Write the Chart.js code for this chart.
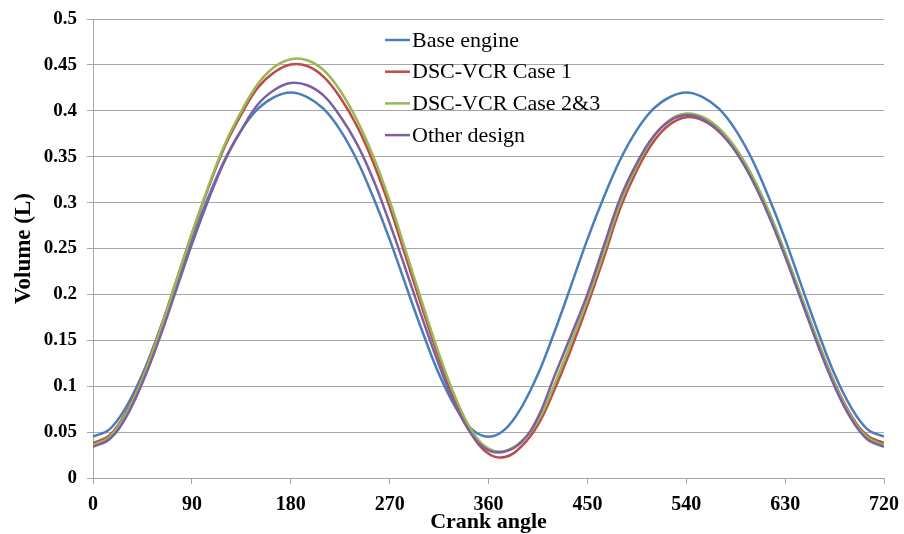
<!DOCTYPE html>
<html>
<head>
<meta charset="utf-8">
<script src="https://cdn.jsdelivr.net/npm/chart.js@4/dist/chart.umd.min.js"></script>
<style>
  html, body { margin: 0; padding: 0; background: #fff; }
  #wrap { width: 904px; height: 534px; position: relative; }
</style>
</head>
<body>
<div id="wrap"><canvas id="volumeChart"></canvas></div>
<script>
const angles = [
  0, 15, 30, 45, 60, 75, 90, 105, 120, 135, 150, 165, 180,
  195, 210, 225, 240, 255, 270, 285, 300, 315, 330, 345, 360,
  375, 390, 405, 420, 435, 450, 465, 480, 495, 510, 525, 540,
  555, 570, 585, 600, 615, 630, 645, 660, 675, 690, 705, 720
];

const baseEngine = [
  0.045, 0.053, 0.077, 0.113, 0.159, 0.209, 0.26, 0.306, 0.347, 0.379, 0.402, 0.415, 0.42,
  0.415, 0.402, 0.379, 0.347, 0.306, 0.26, 0.209, 0.159, 0.113, 0.077, 0.053, 0.045,
  0.053, 0.077, 0.113, 0.159, 0.209, 0.26, 0.306, 0.347, 0.379, 0.402, 0.415, 0.42,
  0.415, 0.402, 0.379, 0.347, 0.306, 0.26, 0.209, 0.159, 0.113, 0.077, 0.053, 0.045
];

const case1 = [
  0.038, 0.0465, 0.0715, 0.110, 0.158, 0.212, 0.266, 0.316, 0.361, 0.396, 0.425, 0.442, 0.4505,
  0.4488, 0.437, 0.4145, 0.384, 0.344, 0.2955, 0.2397, 0.184, 0.1305, 0.083, 0.047, 0.0264,
  0.0228, 0.0345, 0.058, 0.096, 0.14, 0.188, 0.24, 0.294, 0.335, 0.366, 0.385, 0.393,
  0.3895, 0.377, 0.356, 0.3265, 0.289, 0.2443, 0.196, 0.148, 0.1037, 0.0685, 0.046, 0.038
];

const case23 = [
  0.036, 0.0446, 0.0697, 0.1084, 0.1573, 0.2116, 0.2663, 0.3177, 0.3636, 0.3993, 0.4292, 0.4477, 0.4562,
  0.4551, 0.4442, 0.4219, 0.3906, 0.3508, 0.302, 0.246, 0.1897, 0.135, 0.0874, 0.0514, 0.032,
  0.0295, 0.040, 0.062, 0.102, 0.147, 0.194, 0.246, 0.300, 0.340, 0.371, 0.390, 0.397,
  0.3934, 0.3808, 0.3595, 0.3295, 0.2912, 0.2457, 0.197, 0.148, 0.1028, 0.067, 0.0441, 0.036
];

const otherDesign = [
  0.034, 0.0422, 0.0661, 0.1038, 0.1502, 0.2022, 0.2545, 0.3029, 0.3457, 0.379, 0.4068, 0.4227, 0.4302,
  0.4278, 0.4165, 0.394, 0.3646, 0.3255, 0.2776, 0.226, 0.173, 0.123, 0.0787, 0.0469, 0.030,
  0.0288, 0.039, 0.066, 0.111, 0.155, 0.200, 0.253, 0.305, 0.343, 0.372, 0.389, 0.3954,
  0.391, 0.3777, 0.3555, 0.3247, 0.286, 0.2411, 0.1925, 0.144, 0.0999, 0.0647, 0.0419, 0.034
];

const seriesNames = ["Base engine", "DSC-VCR Case 1", "DSC-VCR Case 2&3", "Other design"];
const seriesColours = ["#4a7ebb", "#be4b48", "#98b954", "#7d60a0"];
const seriesValues = [baseEngine, case1, case23, otherDesign];

const serif = "'Liberation Serif', 'Times New Roman', serif";

const datasets = seriesValues.map((values, i) => ({
  label: seriesNames[i],
  data: values.map((v, j) => ({ x: angles[j], y: v })),
  borderColor: seriesColours[i],
  backgroundColor: seriesColours[i],
  borderWidth: 2.5,
  pointRadius: 0,
  tension: 0.4,
  order: seriesValues.length - 1 - i,
}));

// legend drawn inside the plot, like the original
const insideLegend = {
  id: "insideLegend",
  afterDraw(chart) {
    const ctx = chart.ctx;
    const area = chart.chartArea;
    const x0 = area.left + 292;
    const y0 = area.top + 21;
    ctx.save();
    ctx.font = "22px " + serif;
    ctx.textBaseline = "middle";
    ctx.fillStyle = "#000";
    seriesNames.forEach((name, i) => {
      const y = y0 + i * 31.7;
      ctx.strokeStyle = seriesColours[i];
      ctx.lineWidth = 2.5;
      ctx.beginPath();
      ctx.moveTo(x0, y);
      ctx.lineTo(x0 + 25, y);
      ctx.stroke();
      ctx.fillText(name, x0 + 27, y + 1);
    });
    ctx.restore();
  },
};

const ctx = document.querySelector("#volumeChart").getContext("2d");

new Chart(ctx, {
  type: "line",
  data: { datasets: datasets },
  options: {
    responsive: true,
    maintainAspectRatio: false,
    animation: false,
    layout: { padding: { top: 19, right: 20, left: 0, bottom: 0 } },
    plugins: {
      legend: { display: false },
      tooltip: { enabled: false },
    },
    scales: {
      x: {
        type: "linear",
        min: 0,
        max: 720,
        afterFit: (scale) => {
          scale.height = 56;
          scale.paddingRight = 10;
        },
        ticks: {
          stepSize: 90,
          color: "#000",
          padding: 9,
          font: { family: serif, size: 20, weight: "bold" },
        },
        grid: {
          drawOnChartArea: false,
          drawTicks: true,
          tickLength: 6,
          color: "#a6a6a6",
        },
        border: { display: true, color: "#a6a6a6", width: 1 },
        title: {
          display: true,
          text: "Crank angle",
          color: "#000",
          padding: { top: 0, bottom: -2 },
          font: { family: serif, size: 22, weight: "bold" },
        },
      },
      y: {
        min: 0,
        max: 0.5,
        afterFit: (scale) => {
          scale.width = 93;
          scale.paddingTop = 10;
        },
        ticks: {
          stepSize: 0.05,
          color: "#000",
          padding: 10,
          font: { family: serif, size: 19, weight: "bold" },
          callback: (v) => String(+Number(v).toFixed(2)),
        },
        grid: {
          color: "#a6a6a6",
          lineWidth: 1,
          drawTicks: true,
          tickLength: 6,
        },
        border: { display: true, color: "#a6a6a6", width: 1 },
        title: {
          display: true,
          text: "Volume (L)",
          color: "#000",
          padding: { top: 10, bottom: 0 },
          font: { family: serif, size: 23, weight: "bold" },
        },
      },
    },
  },
  plugins: [insideLegend],
});
</script>
</body>
</html>
